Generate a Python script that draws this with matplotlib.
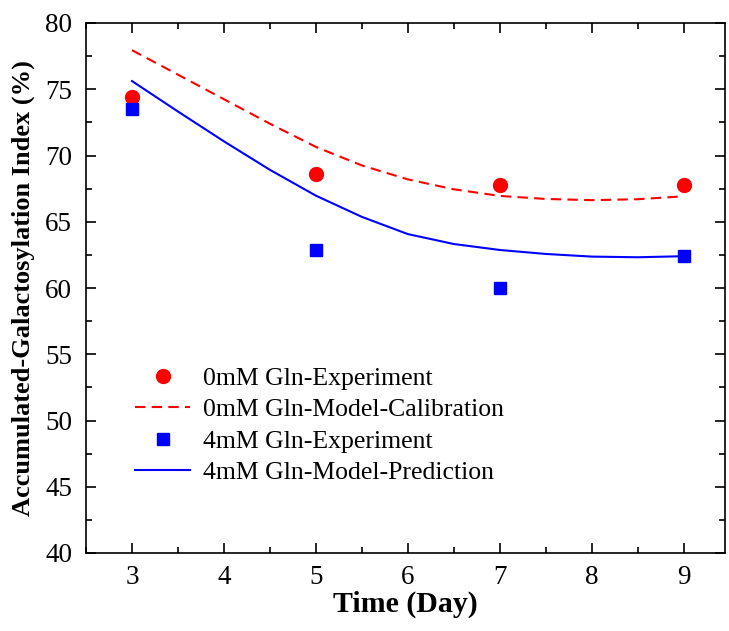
import matplotlib
matplotlib.use("Agg")
import matplotlib.pyplot as plt
from matplotlib.ticker import MultipleLocator

# Experimental data
days = [3, 5, 7, 9]
exp_0mM = [74.4, 68.6, 67.8, 67.8]
exp_4mM = [73.5, 62.9, 60.0, 62.4]

# Model curves
model_days = [3, 3.5, 4, 4.5, 5, 5.5, 6, 6.5, 7, 7.5, 8, 8.5, 9]
model_0mM = [77.95, 76.1, 74.25, 72.4, 70.65, 69.25, 68.2, 67.45, 66.95, 66.72, 66.63, 66.7, 66.92]
model_4mM = [75.62, 73.32, 71.07, 68.92, 66.97, 65.37, 64.07, 63.32, 62.87, 62.57, 62.37, 62.32, 62.40]

labels = ["0mM Gln-Experiment", "0mM Gln-Model-Calibration",
          "4mM Gln-Experiment", "4mM Gln-Model-Prediction"]

plt.rcParams['font.family'] = ['Liberation Serif', 'DejaVu Serif']

fig = plt.figure(figsize=(7.29, 6.31), dpi=100)
ax = fig.add_axes([86/729, 1 - 553/631, (725 - 86)/729, (553 - 23)/631])

h1, = ax.plot(days, exp_0mM, 'o', color='#ff0000', markersize=10, linestyle='none', label=labels[0])
h2, = ax.plot(model_days, model_0mM, color='#ff0000', lw=1.5, linestyle=(0, (5, 3)), label=labels[1])
h3, = ax.plot(days, exp_4mM, 's', color='#0000ff', markersize=8.5, linestyle='none', label=labels[2])
h4, = ax.plot(model_days, model_4mM, color='#0000ff', lw=1.5, linestyle='-', label=labels[3])

ax.set_xlim(2.5, 9.45)
ax.set_ylim(40, 80)
ax.xaxis.set_major_locator(MultipleLocator(1))
ax.xaxis.set_minor_locator(MultipleLocator(0.5))
ax.yaxis.set_major_locator(MultipleLocator(5))
ax.yaxis.set_minor_locator(MultipleLocator(2.5))
ax.tick_params(which='both', direction='in', top=True, right=True, width=1.2)
ax.tick_params(which='major', length=7.5, labelsize=19.5)
ax.tick_params(axis='y', which='major', pad=10)
ax.tick_params(axis='x', which='major', pad=9)
ax.tick_params(which='minor', length=4)
for s in ax.spines.values():
    s.set_linewidth(1.2)

ax.set_xlabel("Time (Day)", fontsize=21.5, fontweight='bold', labelpad=0)
ax.set_ylabel("Accumulated-Galactosylation Index (%)", fontsize=19, fontweight='bold', labelpad=7)

leg = ax.legend(handles=[h1, h2, h3, h4], loc='upper left',
                bbox_to_anchor=(135/729, 1 - 367/631), bbox_transform=fig.transFigure,
                frameon=False, fontsize=18.5, handlelength=2.15, handletextpad=0.5,
                labelspacing=0.33, borderpad=0, borderaxespad=0)

fig.savefig("out.png", dpi=100)
